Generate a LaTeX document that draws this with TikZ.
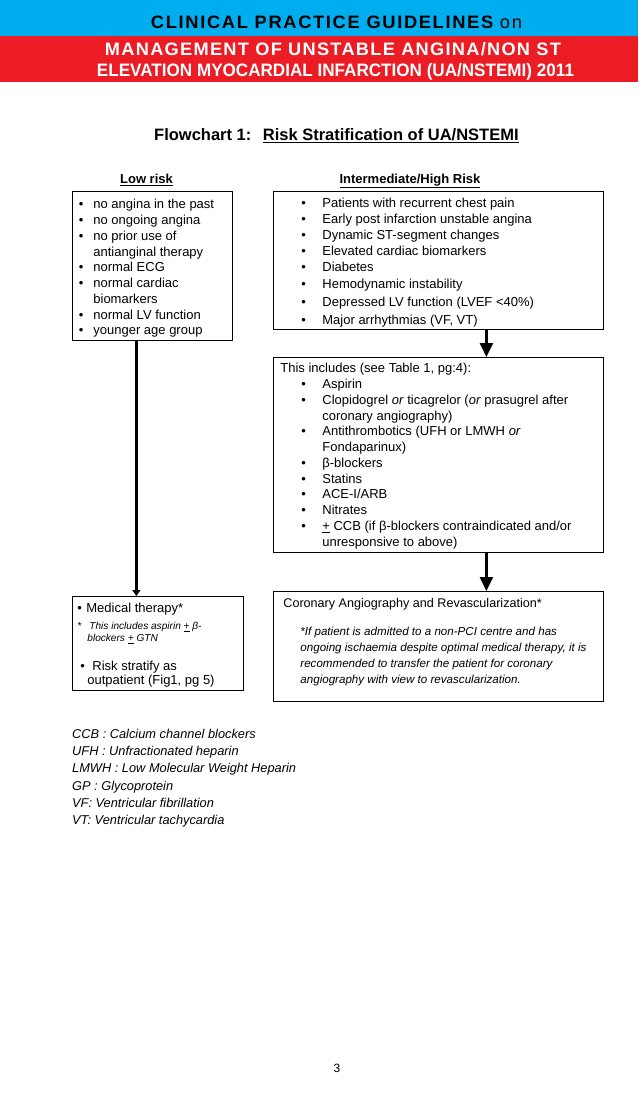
\documentclass[tikz,border=0pt]{standalone}
\usepackage{fontspec}
\setmainfont{Liberation Sans}
\newfontfamily\trackfont[LetterSpace=9]{Liberation Sans}
\newfontfamily\trackfontb[LetterSpace=7]{Liberation Sans}
\usetikzlibrary{arrows.meta,positioning}

\definecolor{hdblue}{RGB}{0,173,238}
\definecolor{hdred}{RGB}{236,28,36}

% bullet line: bullet indent, text indent, text
\newcommand{\bitem}[3]{\par\hangindent=#2\hangafter=1\noindent\hspace*{#1}\makebox[\dimexpr#2-#1\relax][l]{\textbullet}#3}
\newcommand{\nl}{\unskip\nobreak\hfil\break}
\newcommand{\topstrut}[1]{\rule{0pt}{#1}}
\newcommand{\botstrut}[1]{\rule[-#1]{0pt}{#1}}
\newcommand{\pmu}{\underline{+}}

\tikzset{
  box/.style={draw, line width=0.8pt, anchor=north west, align=flush left, inner sep=0pt,
    font=\fontsize{13}{15.75}\selectfont},
  flow/.style={line width=2.6pt, -{Triangle[width=13pt,length=14pt]}},
  thinflow/.style={line width=2.2pt, -{Triangle[width=8pt,length=6pt]}},
  hd/.style={anchor=base, inner sep=0pt, font=\bfseries\fontsize{18}{20}\selectfont},
  lbl/.style={anchor=base, inner sep=0pt, font=\bfseries\fontsize{13}{15}\selectfont},
}

\begin{document}
\begin{tikzpicture}[x=1pt,y=-1pt]
\useasboundingbox (0,0) rectangle (638,1103);

% header bands
\fill[hdblue] (0,0) rectangle (638,36);
\fill[hdred] (0,36) rectangle (638,82);
\node[hd] (guide) at (336.5,28.2) {\resizebox{371pt}{\height}{\trackfont\bfseries CLINICAL PRACTICE GUIDELINES {\mdseries on}}};
\node[hd, text=white] (mgmt) at (333,55.5) {\resizebox{456pt}{\height}{\trackfontb\bfseries MANAGEMENT OF UNSTABLE ANGINA/NON ST}};
\node[hd, text=white] (elev) at (335.5,76.5) {\resizebox{477pt}{\height}{ELEVATION MYOCARDIAL INFARCTION (UA/NSTEMI) 2011}};

% title
\node[anchor=base west, inner sep=0pt, font=\bfseries\fontsize{16.5}{18}\selectfont] (title) at (154,140)
  {Flowchart 1:\hspace{11.5pt}\underline{Risk Stratification of UA/NSTEMI}};

\node[lbl] (lowlbl) at (146.5,183.5) {\underline{Low risk}};
\node[lbl] (highlbl) at (410,183.5) {\underline{Intermediate/High Risk}};

% risk boxes
\node[box, text width=160pt] (low) at (72,191) {%
\bitem{6.5pt}{21pt}{\topstrut{16.5pt}no angina in the past}
\bitem{6.5pt}{21pt}{no ongoing angina}
\bitem{6.5pt}{21pt}{no prior use of\nl antianginal therapy}
\bitem{6.5pt}{21pt}{normal ECG}
\bitem{6.5pt}{21pt}{normal cardiac\nl biomarkers}
\bitem{6.5pt}{21pt}{normal LV function}
\bitem{6.5pt}{21pt}{younger age group\botstrut{5.5pt}}\par};

\node[box, text width=330pt, font=\fontsize{13}{16}\selectfont] (high) at (273,191) {%
\bitem{28pt}{49pt}{\topstrut{15.5pt}Patients with recurrent chest pain}
\bitem{28pt}{49pt}{Early post infarction unstable angina}
\bitem{28pt}{49pt}{Dynamic ST-segment changes}
\bitem{28pt}{49pt}{Elevated cardiac biomarkers}
\bitem{28pt}{49pt}{Diabetes}
\par\vspace{1pt}
\bitem{28pt}{49pt}{Hemodynamic instability}
\par\vspace{2pt}
\bitem{28pt}{49pt}{Depressed LV function (LVEF <40\%)}
\par\vspace{2pt}
\bitem{28pt}{49pt}{Major arrhythmias (VF, VT)\botstrut{4.5pt}}\par};

\node[box, text width=330pt] (rx) at (273,357) {%
\hspace*{7pt}\topstrut{15.5pt}This includes (see Table 1, pg:4):
\bitem{28pt}{49pt}{Aspirin}
\bitem{28pt}{49pt}{Clopidogrel \textit{or} ticagrelor (\textit{or} prasugrel after\nl coronary angiography)}
\bitem{28pt}{49pt}{Antithrombotics (UFH or LMWH \textit{or}\nl Fondaparinux)}
\bitem{28pt}{49pt}{β-blockers}
\bitem{28pt}{49pt}{Statins}
\bitem{28pt}{49pt}{ACE-I/ARB}
\bitem{28pt}{49pt}{Nitrates}
\bitem{28pt}{49pt}{\pmu{} CCB (if β-blockers contraindicated and/or\nl unresponsive to above)\botstrut{6.5pt}}\par};

\node[box, text width=330pt] (cor) at (273,591) {%
{\fontsize{12.6}{15}\selectfont\hspace*{10pt}\topstrut{16.5pt}Coronary Angiography and Revascularization*\par}
\vspace{11.5pt}
{\itshape\fontsize{11.6}{16}\selectfont\leftskip=27pt
*If patient is admitted to a non-PCI centre and has\nl
ongoing ischaemia despite optimal medical therapy, it is\nl
recommended to transfer the patient for coronary\nl
angiography with view to revascularization.\botstrut{18pt}\par}};

\node[box, text width=171pt] (med) at (72,596) {%
\hspace*{5pt}\makebox[9pt][l]{\textbullet}\topstrut{16.5pt}Medical therapy*\par
\vspace{5.5pt}
{\itshape\fontsize{10.1}{11.5}\selectfont\hangindent=15pt\hangafter=1
\hspace*{5pt}\makebox[12pt][l]{*}This includes aspirin \pmu{} β-\nl
blockers \pmu{} GTN\par}
\fontsize{13}{14}\selectfont
\vspace{15.5pt}
{\hangindent=15pt\hangafter=1
\hspace*{8pt}\makebox[12pt][l]{\textbullet}Risk stratify as\nl
outpatient (Fig1, pg 5)\botstrut{5.5pt}\par}};

% connectors
\draw[flow] ([xshift=48pt]high.south) -- ([xshift=48pt]rx.north);
\draw[flow] ([xshift=48pt]rx.south) -- ([xshift=48pt]cor.north);
\draw[thinflow] ([xshift=-16pt]low.south) -- ([xshift=-16pt]low.south |- med.north);

% abbreviations
\node[anchor=base west, inner sep=0pt, text width=320pt, align=flush left,
  font=\itshape\fontsize{12.8}{17.2}\selectfont] (abbr) at (72,738.5) {%
CCB : Calcium channel blockers\\
UFH : Unfractionated heparin\\
LMWH : Low Molecular Weight Heparin\\
GP : Glycoprotein\\
VF: Ventricular fibrillation\\
VT: Ventricular tachycardia};

\node[anchor=base, inner sep=0pt, font=\fontsize{12}{14}\selectfont] (pgnum) at (337,1072) {3};
\end{tikzpicture}
\end{document}
